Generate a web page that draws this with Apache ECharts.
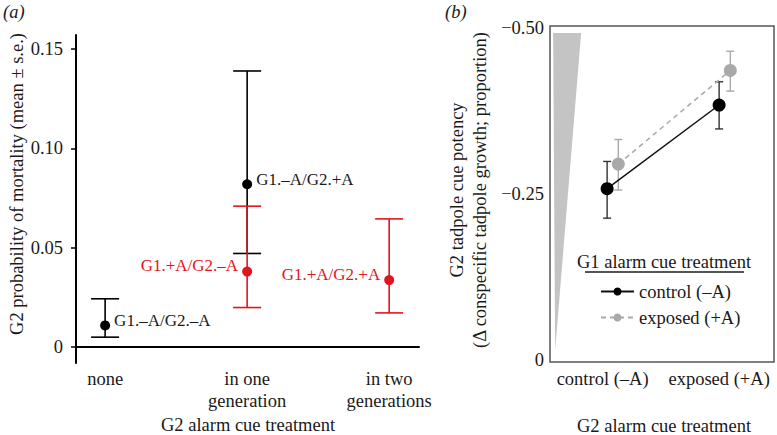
<!DOCTYPE html>
<html><head><meta charset="utf-8">
<script src="https://cdn.jsdelivr.net/npm/echarts@6/dist/echarts.min.js"></script>
<style>html,body{margin:0;padding:0;background:#fff}#c{width:777px;height:435px}</style>
</head><body><div id="c"></div>
<script>
// ---------- Panel (a) data ----------
const aCategories = ['none', 'in one\ngeneration', 'in two\ngenerations'];
const aYTicks = [0, 0.05, 0.10, 0.15];
const aYTickLabels = ['0', '0.05', '0.10', '0.15'];
const aBlackX = [1, 2];
const aBlackMean = [0.0109, 0.0819];
const aBlackLow = [0.0050, 0.0471];
const aBlackHigh = [0.0243, 0.1389];
const aBlackLabels = ['G1.–A/G2.–A', 'G1.–A/G2.+A'];
const aRedX = [2, 3];
const aRedMean = [0.0380, 0.0337];
const aRedLow = [0.0199, 0.0172];
const aRedHigh = [0.0709, 0.0645];
const aRedLabels = ['G1.+A/G2.–A', 'G1.+A/G2.+A'];

// ---------- Panel (b) data ----------
const bCategories = ['control (–A)', 'exposed (+A)'];
const bYTicks = [-0.50, -0.25, 0];
const bYTickLabels = ['−0.50', '−0.25', '0'];
const bSeriesNames = ['control (–A)', 'exposed (+A)'];
const bControlMean = [-0.258, -0.384];
const bControlLow = [-0.2136, -0.348];
const bControlHigh = [-0.299, -0.419];
const bExposedMean = [-0.295, -0.436];
const bExposedLow = [-0.256, -0.405];
const bExposedHigh = [-0.332, -0.465];
const wedgeX = [0.518, 0.768, 0.536];
const wedgeY = [-0.4925, -0.4925, -0.015];

const FONT = "'Liberation Serif', 'Times New Roman', serif";
const RED = '#e3141c';
const GRAY = '#a9a9a9';
const TXT = '#1a1a1a';
const bPos = [1, 2];
const bDodge = 0.1;

function errBar(color, capHalf, lw) {
  return function (params, api) {
    const x = api.value(0), lo = api.value(1), hi = api.value(2);
    const p1 = api.coord([x, lo]), p2 = api.coord([x, hi]);
    const st = { stroke: color, lineWidth: lw };
    return { type: 'group', children: [
      { type: 'line', shape: { x1: p1[0], y1: p1[1], x2: p2[0], y2: p2[1] }, style: st },
      { type: 'line', shape: { x1: p1[0] - capHalf, y1: p1[1], x2: p1[0] + capHalf, y2: p1[1] }, style: st },
      { type: 'line', shape: { x1: p2[0] - capHalf, y1: p2[1], x2: p2[0] + capHalf, y2: p2[1] }, style: st }
    ]};
  };
}

const chart = echarts.init(document.getElementById('c'), null, { renderer: 'svg' });
const option = {
  animation: false,
  textStyle: { fontFamily: FONT },
  grid: [
    { left: 76, top: 35, width: 343, height: 328 },
    { left: 550, top: 26, width: 224, height: 336, show: true, borderColor: '#555', borderWidth: 1.5, backgroundColor: 'transparent' }
  ],
  xAxis: [
    { gridIndex: 0, type: 'value', min: 0.795, max: 3.21,
      axisLine: { show: true, lineStyle: { color: '#000', width: 2 } },
      axisTick: { show: false }, splitLine: { show: false },
      axisLabel: { customValues: [1, 2, 3], formatter: v => aCategories[Math.round(v) - 1],
        fontSize: 18.5, color: TXT, lineHeight: 22, margin: 5, fontFamily: FONT } },
    { gridIndex: 1, type: 'value', min: 0.49, max: 2.49,
      axisLine: { show: false }, axisTick: { show: false }, splitLine: { show: false },
      axisLabel: { customValues: [0.96, 2.0], formatter: v => (v < 1.5 ? bCategories[0] : bCategories[1]),
        fontSize: 18.5, color: TXT, margin: 7, fontFamily: FONT } }
  ],
  yAxis: [
    { gridIndex: 0, type: 'value', min: -0.008, max: 0.157,
      axisLine: { show: true, lineStyle: { color: '#000', width: 2 } },
      axisTick: { show: true, customValues: aYTicks, length: 5, lineStyle: { color: '#000', width: 1.5 } },
      splitLine: { show: false },
      axisLabel: { customValues: aYTicks, formatter: v => aYTickLabels[aYTicks.indexOf(v)],
        fontSize: 18.5, color: TXT, margin: 13, fontFamily: FONT } },
    { gridIndex: 1, type: 'value', inverse: true, min: -0.503, max: 0.003,
      axisLine: { show: false }, axisTick: { show: false }, splitLine: { show: false },
      axisLabel: { customValues: bYTicks, formatter: v => bYTickLabels[bYTicks.indexOf(v)],
        fontSize: 18.5, color: TXT, margin: 6, fontFamily: FONT } }
  ],
  legend: {
    left: 595, top: 277, orient: 'vertical', itemWidth: 33, itemHeight: 10, itemGap: 7,
    data: bSeriesNames, selectedMode: false,
    textStyle: { fontSize: 18.5, color: TXT, fontFamily: FONT }
  },
  series: [
    // Panel (a)
    { type: 'custom', xAxisIndex: 0, yAxisIndex: 0, renderItem: errBar('#000', 14, 1.6),
      encode: { x: 0, y: [1, 2] }, silent: true,
      data: aBlackX.map((x, i) => [x, aBlackLow[i], aBlackHigh[i]]) },
    { type: 'scatter', xAxisIndex: 0, yAxisIndex: 0, symbolSize: 10, itemStyle: { color: '#000', opacity: 1 },
      data: aBlackX.map((x, i) => ({ value: [x, aBlackMean[i]], name: aBlackLabels[i] })),
      label: { show: true, position: 'right', distance: 4, offset: [0, -5], formatter: p => p.name,
        fontSize: 17, color: TXT, opacity: 1, fontFamily: FONT } },
    { type: 'custom', xAxisIndex: 0, yAxisIndex: 0, renderItem: errBar(RED, 14, 1.6),
      encode: { x: 0, y: [1, 2] }, silent: true,
      data: aRedX.map((x, i) => [x, aRedLow[i], aRedHigh[i]]) },
    { type: 'scatter', xAxisIndex: 0, yAxisIndex: 0, symbolSize: 10, itemStyle: { color: RED, opacity: 1 },
      data: aRedX.map((x, i) => ({ value: [x, aRedMean[i]], name: aRedLabels[i] })),
      label: { show: true, position: 'left', distance: 4, offset: [0, -6], formatter: p => p.name,
        fontSize: 17, color: RED, opacity: 1, fontFamily: FONT } },
    // Panel (b) wedge
    { type: 'custom', xAxisIndex: 1, yAxisIndex: 1, silent: true, encode: { x: 0, y: 1 },
      data: wedgeX.map((x, i) => [x, wedgeY[i]]),
      renderItem: function (params, api) {
        if (params.dataIndex !== 0) return null;
        const pts = wedgeX.map((x, i) => api.coord([x, wedgeY[i]]));
        return { type: 'polygon', shape: { points: pts }, style: { fill: '#c4c4c4' } };
      } },
    // Panel (b) exposed (gray)
    { type: 'custom', xAxisIndex: 1, yAxisIndex: 1, renderItem: errBar(GRAY, 4, 1.4),
      encode: { x: 0, y: [1, 2] }, silent: true,
      data: bPos.map((x, i) => [x + bDodge, bExposedLow[i], bExposedHigh[i]]) },
    { name: bSeriesNames[1], type: 'line', xAxisIndex: 1, yAxisIndex: 1,
      symbol: 'circle', symbolSize: 13, itemStyle: { color: GRAY, opacity: 1 },
      lineStyle: { color: GRAY, width: 1.5, type: [5, 4] },
      data: bPos.map((x, i) => [x + bDodge, bExposedMean[i]]) },
    // Panel (b) control (black)
    { type: 'custom', xAxisIndex: 1, yAxisIndex: 1, renderItem: errBar('#333', 4, 1.4),
      encode: { x: 0, y: [1, 2] }, silent: true,
      data: bPos.map((x, i) => [x, bControlLow[i], bControlHigh[i]]) },
    { name: bSeriesNames[0], type: 'line', xAxisIndex: 1, yAxisIndex: 1,
      symbol: 'circle', symbolSize: 13, itemStyle: { color: '#000', opacity: 1 },
      lineStyle: { color: '#111', width: 1.5 },
      data: bPos.map((x, i) => [x, bControlMean[i]]) }
  ],
  graphic: [
    { type: 'text', left: 3, top: 2, style: { text: '(a)', font: 'italic 18.5px ' + FONT, fill: TXT } },
    { type: 'text', left: 445, top: 2, style: { text: '(b)', font: 'italic 18.5px ' + FONT, fill: TXT } },
    { type: 'text', x: 17, y: 184, rotation: Math.PI / 2,
      style: { text: 'G2 probability of mortality (mean ± s.e.)', font: '18.5px ' + FONT, fill: TXT, align: 'center', verticalAlign: 'middle' } },
    { type: 'text', x: 248, y: 425,
      style: { text: 'G2 alarm cue treatment', font: '18.5px ' + FONT, fill: TXT, align: 'center', verticalAlign: 'middle' } },
    { type: 'text', x: 468, y: 190, rotation: Math.PI / 2,
      style: { text: 'G2 tadpole cue potency\n(Δ conspecific tadpole growth; proportion)', font: '18.5px ' + FONT, lineHeight: 23, fill: TXT, align: 'center', verticalAlign: 'middle' } },
    { type: 'text', x: 664, y: 426,
      style: { text: 'G2 alarm cue treatment', font: '18.5px ' + FONT, fill: TXT, align: 'center', verticalAlign: 'middle' } },
    { type: 'text', x: 664, y: 262,
      style: { text: 'G1 alarm cue treatment', font: '18.5px ' + FONT, fill: TXT, align: 'center', verticalAlign: 'middle' } },
    { type: 'line', shape: { x1: 585, y1: 272, x2: 744, y2: 272 }, style: { stroke: '#555', lineWidth: 2 } }
  ]
};
chart.setOption(option);
</script>
</body></html>
